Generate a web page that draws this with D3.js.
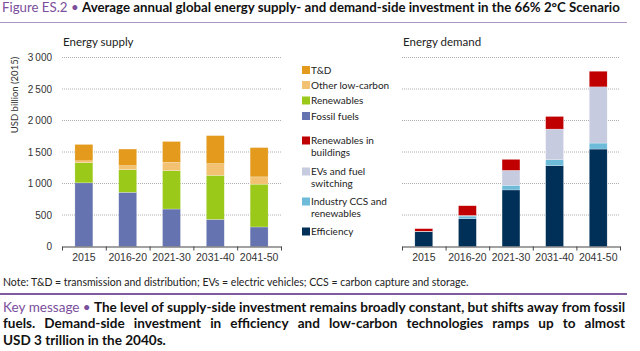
<!DOCTYPE html>
<html>
<head>
<meta charset="utf-8">
<script src="https://cdnjs.cloudflare.com/ajax/libs/d3/7.8.5/d3.min.js"></script>
<style>
  html, body { margin: 0; padding: 0; background: #fff; }
  svg { display: block; font-family: Lato, "Open Sans", sans-serif; }
  .tick text { fill: #333; }
</style>
</head>
<body>
<svg id="chart" width="640" height="351"></svg>
<script>
// Periods on the x axis
const periods = ["2015", "2016-20", "2021-30", "2031-40", "2041-50"];

// Supply side (USD billion 2015)
const fossilFuels = [1010, 860, 595, 430, 310];
const renewables = [320, 360, 610, 700, 680];
const otherLowCarbon = [30, 63, 130, 185, 115];
const tnd = [260, 264, 332, 445, 465];

// Demand side (USD billion 2015)
const efficiency = [235, 440, 898, 1283, 1547];
const industryCcs = [3, 43, 73, 95, 95];
const evsFuelSwitching = [5, 10, 238, 486, 892];
const renewablesBuildings = [40, 154, 174, 200, 248];

const yTicks = [0, 500, 1000, 1500, 2000, 2500, 3000];

const supplySeries = [
  { key: "Fossil fuels", values: fossilFuels, color: "#6573b0" },
  { key: "Renewables", values: renewables, color: "#9bc91a" },
  { key: "Other low-carbon", values: otherLowCarbon, color: "#f2c172" },
  { key: "T&D", values: tnd, color: "#e39a1d" }
];
const demandSeries = [
  { key: "Efficiency", values: efficiency, color: "#003058" },
  { key: "Industry CCS and renewables", values: industryCcs, color: "#6dbbd8" },
  { key: "EVs and fuel switching", values: evsFuelSwitching, color: "#c7cbe0" },
  { key: "Renewables in buildings", values: renewablesBuildings, color: "#c00000" }
];

const svg = d3.select("#chart");
const purple = "#7b4f9c";

// fit a text selection's width to a target by tuning font size
function fitWidth(sel, target, size) {
  sel.style("font-size", size + "px");
  const w = sel.node().getComputedTextLength();
  sel.style("font-size", (size * target / w).toFixed(2) + "px");
}

// Title
const title = svg.append("text").attr("x", 2).attr("y", 12);
title.append("tspan").attr("fill", purple).text("Figure ES.2 • ");
title.append("tspan").attr("fill", "#111").attr("font-weight", 700)
  .text("Average annual global energy supply- and demand-side investment in the 66% 2°C Scenario");
fitWidth(title, 618, 12);
svg.append("line").attr("x1", 0).attr("x2", 627).attr("y1", 22.5).attr("y2", 22.5)
  .attr("stroke", "#ae95c4").attr("stroke-width", 1);

// Shared y scale
const y = d3.scaleLinear().domain([0, 3000]).range([246.5, 57.5]);
const fmt = d3.formatLocale({ decimal: ".", thousands: "\u2009", grouping: [3], currency: ["", ""] }).format(",");

function drawPanel(x0, x1, series, label, showY) {
  const g = svg.append("g");
  const x = d3.scaleBand().domain(periods).range([x0, x1]).paddingInner(0.59).paddingOuter(0.295);

  // dotted gridlines
  g.append("g").selectAll("line").data(yTicks.slice(1)).join("line")
    .attr("x1", x0).attr("x2", x1)
    .attr("y1", d => y(d)).attr("y2", d => y(d))
    .attr("stroke", "#9a9a9a").attr("stroke-width", 0.8).attr("stroke-dasharray", "1,1");

  if (showY) {
    const ya = g.append("g").attr("transform", `translate(${x0},0)`)
      .call(d3.axisLeft(y).tickValues(yTicks).tickFormat(fmt).tickSize(0).tickPadding(10));
    ya.select(".domain").remove();
    ya.selectAll("text").style("font-size", "10px").attr("fill", "#333");
  }

  // stacked bars
  const rows = periods.map((p, i) => {
    const r = { period: p };
    series.forEach(s => { r[s.key] = s.values[i]; });
    return r;
  });
  const stacked = d3.stack().keys(series.map(s => s.key))(rows);
  g.append("g").selectAll("g").data(stacked).join("g")
    .attr("fill", (d, i) => series[i].color)
    .selectAll("rect").data(d => d).join("rect")
    .attr("x", d => x(d.data.period))
    .attr("width", x.bandwidth())
    .attr("y", d => y(d[1]))
    .attr("height", d => y(d[0]) - y(d[1]))
    .attr("stroke", "#fff").attr("stroke-width", 0.4).attr("stroke-opacity", 0.6);

  // x axis: labels under bands, tick marks at band boundaries
  const xa = g.append("g").attr("transform", `translate(0,${y(0)})`)
    .call(d3.axisBottom(x).tickSize(0).tickPadding(7));
  xa.select(".domain").remove();
  xa.selectAll("text").style("font-size", "10.5px").attr("fill", "#333");
  const edges = d3.scaleLinear().domain([0, periods.length]).range([x0, x1]);
  const ea = g.append("g").attr("transform", `translate(0,${y(0)})`)
    .call(d3.axisBottom(edges).tickValues(d3.range(periods.length + 1)).tickFormat("").tickSize(4).tickSizeOuter(0));
  ea.selectAll("line, path").attr("stroke", "#444");

  g.append("text").attr("x", x0 + 1).attr("y", 46)
    .style("font-size", "11.5px").attr("fill", "#222").text(label);
}

drawPanel(62, 281, supplySeries, "Energy supply", true);
drawPanel(402, 620, demandSeries, "Energy demand", false);

// y label
svg.append("text").attr("transform", "translate(18,95) rotate(-90)")
  .attr("text-anchor", "middle").style("font-size", "9.5px").attr("fill", "#333")
  .text("USD billion (2015)");

// Legend
const legendItems = [
  { s: supplySeries[3], lines: ["T&D"], y: 70 },
  { s: supplySeries[2], lines: ["Other low-carbon"], y: 85 },
  { s: supplySeries[1], lines: ["Renewables"], y: 100.5 },
  { s: supplySeries[0], lines: ["Fossil fuels"], y: 116 },
  { s: demandSeries[3], lines: ["Renewables in", "buildings"], y: 140.5 },
  { s: demandSeries[2], lines: ["EVs and fuel", "switching"], y: 171.5 },
  { s: demandSeries[1], lines: ["Industry CCS and", "renewables"], y: 201.5 },
  { s: demandSeries[0], lines: ["Efficiency"], y: 231.5 }
];
const lg = svg.append("g").selectAll("g").data(legendItems).join("g");
lg.append("rect").attr("x", 302).attr("y", d => d.y - 4).attr("width", 8).attr("height", 8)
  .attr("fill", d => d.s.color);
lg.append("text").attr("x", 311).attr("y", d => d.y + 3.5)
  .style("font-size", "10px").attr("fill", "#222")
  .selectAll("tspan").data(d => d.lines).join("tspan")
  .attr("x", 311).attr("dy", (d, i) => i ? 12 : 0).text(d => d);

// Note
const note = svg.append("text").attr("x", 3).attr("y", 285.5).attr("fill", "#222")
  .text("Note: T&D = transmission and distribution; EVs = electric vehicles; CCS = carbon capture and storage.");
fitWidth(note, 466, 9.5);
svg.append("line").attr("x1", 0).attr("x2", 627).attr("y1", 294).attr("y2", 294)
  .attr("stroke", "#7d5b9e").attr("stroke-width", 2);

// Key message, justified by word placement (glyphs squeezed to match the narrower original face)
const keyLines = [
  { words: ["Key", "message", "•", "The", "level", "of", "supply-side", "investment", "remains", "broadly", "constant,", "but", "shifts", "away", "from", "fossil"], purpleUntil: 3, y: 311.5, justify: true },
  { words: ["fuels.", "Demand-side", "investment", "in", "efficiency", "and", "low-carbon", "technologies", "ramps", "up", "to", "almost"], purpleUntil: 0, y: 328, justify: true },
  { words: ["USD", "3", "trillion", "in", "the", "2040s."], purpleUntil: 0, y: 344.5, justify: false }
];
const kx0 = 3, kx1 = 625, keySize = 12.8;
const probe = svg.append("text").style("font-size", keySize + "px").attr("font-weight", 700).text(keyLines[0].words.join(" "));
const squeeze = (kx1 - kx0) / probe.node().getComputedTextLength();
probe.remove();
const spaceProbe = svg.append("text").style("font-size", keySize + "px").attr("font-weight", 700).text("a a");
const aProbe = svg.append("text").style("font-size", keySize + "px").attr("font-weight", 700).text("aa");
const spaceW = (spaceProbe.node().getComputedTextLength() - aProbe.node().getComputedTextLength()) * squeeze;
spaceProbe.remove(); aProbe.remove();

keyLines.forEach(line => {
  const ws = line.words.map((w, i) => {
    const t = svg.append("text").attr("y", line.y).style("font-size", keySize + "px")
      .attr("font-weight", i < line.purpleUntil ? 400 : 700)
      .attr("fill", i < line.purpleUntil ? purple : "#111").text(w);
    const width = t.node().getComputedTextLength() * squeeze;
    t.attr("textLength", width).attr("lengthAdjust", "spacingAndGlyphs");
    return { t, w: width };
  });
  const total = d3.sum(ws, d => d.w);
  const gap = line.justify ? (kx1 - kx0 - total) / (ws.length - 1) : spaceW;
  let cx = kx0;
  ws.forEach(d => { d.t.attr("x", cx); cx += d.w + gap; });
});
</script>
</body>
</html>
